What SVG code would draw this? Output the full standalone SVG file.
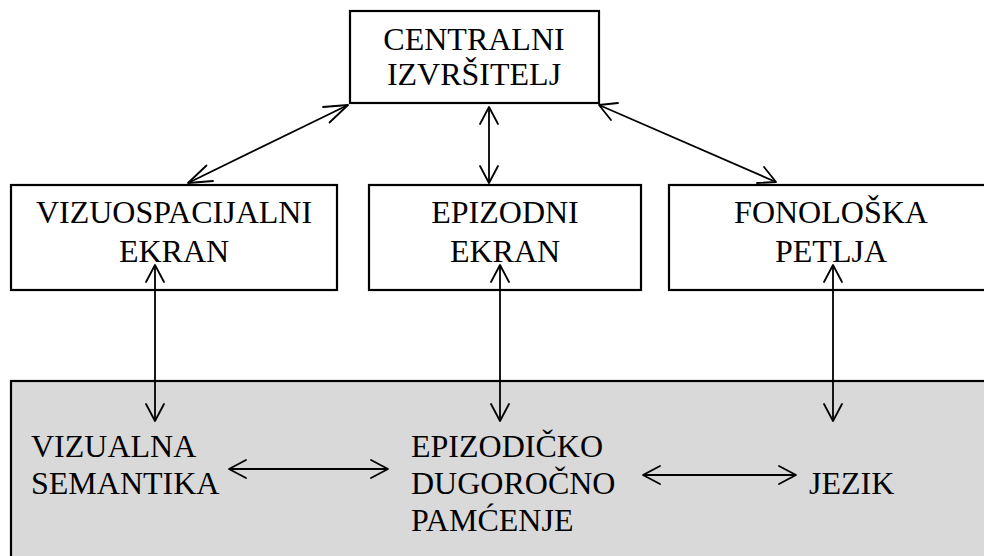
<svg xmlns="http://www.w3.org/2000/svg" width="984" height="556" viewBox="0 0 984 556">
<style>
.box{fill:#fff;stroke:#000;stroke-width:2.2}
.mem{fill:#d9d9d9;stroke:#000;stroke-width:2.2}
.t{font-family:"Liberation Serif","Times New Roman",serif;font-size:32px;fill:#000}
.c{text-anchor:middle}
.ln{stroke:#000;stroke-width:1.8;fill:none}
.hd{stroke:#000;stroke-width:1.8;fill:none;stroke-linecap:round;stroke-linejoin:round}
</style>
<rect width="984" height="556" fill="#fff"/>
<g id="memory">
<rect class="mem" x="11" y="381" width="990" height="190"/>
</g>
<g id="central">
<rect class="box" x="350" y="11" width="249" height="92"/>
<text class="t c" x="474" y="50">CENTRALNI</text>
<text class="t c" x="474" y="85">IZVRŠITELJ</text>
</g>
<g id="visuospatial">
<rect class="box" x="11" y="185" width="326" height="105"/>
<text class="t c" x="174" y="223">VIZUOSPACIJALNI</text>
<text class="t c" x="174" y="262">EKRAN</text>
</g>
<g id="episodic-buffer">
<rect class="box" x="369" y="185" width="272" height="105"/>
<text class="t c" x="505" y="223">EPIZODNI</text>
<text class="t c" x="505" y="262">EKRAN</text>
</g>
<g id="phonological">
<rect class="box" x="669" y="185" width="330" height="105"/>
<text class="t c" x="831" y="223">FONOLOŠKA</text>
<text class="t c" x="831" y="262">PETLJA</text>
</g>
<g id="visual-semantics">
<text class="t" x="31" y="457">VIZUALNA</text>
<text class="t" x="31" y="494">SEMANTIKA</text>
</g>
<g id="episodic-ltm">
<text class="t" x="411" y="457">EPIZODIČKO</text>
<text class="t" x="411" y="494">DUGOROČNO</text>
<text class="t" x="411" y="531">PAMĆENJE</text>
</g>
<g id="language">
<text class="t" x="809" y="494">JEZIK</text>
</g>
<g id="connectors">
<!-- left diagonal -->
<line class="ln" x1="188" y1="183" x2="348" y2="105"/>
<polyline class="hd" points="206.5,165.5 188,183 213,181"/>
<polyline class="hd" points="323,107 348,105 329.5,122.5"/>
<!-- middle vertical -->
<line class="ln" x1="489" y1="107" x2="489" y2="183"/>
<polyline class="hd" points="480,124 489,107 498,124"/>
<polyline class="hd" points="480,166 489,183 498,166"/>
<!-- right diagonal -->
<line class="ln" x1="599" y1="105" x2="776" y2="182"/>
<polyline class="hd" points="618,103 599,105 611,120"/>
<polyline class="hd" points="764,167 776,182 757,183"/>
<!-- verticals to memory -->
<line class="ln" x1="155" y1="265" x2="155" y2="421"/>
<polyline class="hd" points="146,282 155,265 164,282"/>
<polyline class="hd" points="146,404 155,421 164,404"/>
<line class="ln" x1="500" y1="265" x2="500" y2="421"/>
<polyline class="hd" points="491,282 500,265 509,282"/>
<polyline class="hd" points="491,404 500,421 509,404"/>
<line class="ln" x1="833" y1="265" x2="833" y2="421"/>
<polyline class="hd" points="824,282 833,265 842,282"/>
<polyline class="hd" points="824,404 833,421 842,404"/>
<!-- horizontals -->
<line class="ln" x1="229" y1="469" x2="388" y2="469"/>
<polyline class="hd" points="246,460 229,469 246,478"/>
<polyline class="hd" points="371,460 388,469 371,478"/>
<line class="ln" x1="643" y1="475" x2="796" y2="475"/>
<polyline class="hd" points="660,466 643,475 660,484"/>
<polyline class="hd" points="779,466 796,475 779,484"/>
</g>
</svg>
